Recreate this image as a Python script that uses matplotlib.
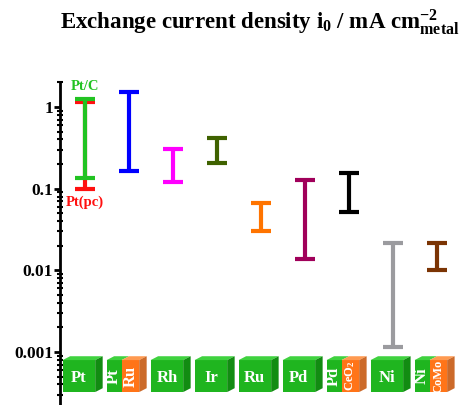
import matplotlib
matplotlib.use('Agg')
import matplotlib.pyplot as plt
import matplotlib.transforms as mtransforms
from matplotlib.patches import Polygon
import numpy as np

plt.rcParams['font.family'] = 'Liberation Serif'
plt.rcParams['font.weight'] = 'bold'
plt.rcParams['mathtext.fontset'] = 'custom'
plt.rcParams['mathtext.rm'] = 'Liberation Serif:bold'
plt.rcParams['mathtext.it'] = 'Liberation Serif:bold'
plt.rcParams['mathtext.bf'] = 'Liberation Serif:bold'
plt.rcParams['mathtext.default'] = 'regular'

# catalysts, left to right
catalysts = ['Pt', 'PtRu', 'Rh', 'Ir', 'Ru', 'Pd', 'PdCeO2', 'Ni', 'NiCoMo']
# i0 range (low, high), mA cm-2 metal
low = [0.135, 0.165, 0.121, 0.206, 0.0304, 0.0137, 0.0518, 0.00115, 0.0101]
high = [1.25, 1.53, 0.306, 0.417, 0.0668, 0.128, 0.155, 0.0216, 0.0216]
colors = ['#22c322', '#0000ff', '#ff00ff', '#3f6200', '#ff7400',
          '#a0005a', '#000000', '#9b9b9f', '#7b3404']
# polycrystalline Pt range
ptpc_low = 0.098
ptpc_high = 1.15

# cube labels: (left part, right part or None)
cube_left = ['Pt', 'Pt', 'Rh', 'Ir', 'Ru', 'Pd', 'Pd', 'Ni', 'Ni']
cube_right = [None, 'Ru', None, None, None, None, 'CeO$_2$', None, 'CoMo']

fig = plt.figure(figsize=(4.59, 4.05), dpi=100)
ax = fig.add_axes([60/459, 0, 399/459, 323/405])
ax.set_yscale('log')
ax.set_ylim(2.24e-4, 2.02)
ax.set_xlim(-0.57, 8.5)

x = np.arange(len(catalysts))

def bar(xx, lo, hi, c, z=2):
    mid = np.sqrt(lo*hi)
    ax.errorbar([xx], [mid], yerr=[[mid-lo], [hi-mid]], fmt='none',
                ecolor=c, elinewidth=3, capsize=7, capthick=3, zorder=z)

bar(0, ptpc_low, ptpc_high, '#ff1010', z=2)
for i in range(len(catalysts)):
    bar(x[i], low[i], high[i], colors[i], z=3)

ax.text(0, 1.5, 'Pt/C', color='#22c322', fontsize=10.5, ha='center', va='bottom', fontweight='bold')
ax.text(0, 0.083, 'Pt(pc)', color='#ff1010', fontsize=10.5, ha='center', va='top', fontweight='bold')

# cubes
tr = mtransforms.blended_transform_factory(ax.transData, ax.transAxes)
w = 0.74
dx = 0.17
dy = 0.012
y0, y1 = 0.040, 0.139
green, gtop, gside = '#1fb51f', '#3fd23f', '#128c12'
orange, otop, oside = '#ff7418', '#ff9a50', '#cc6a2a'
for i in range(len(catalysts)):
    cx = x[i] - 0.14
    xl, xr = cx - w/2, cx + w/2
    if cube_right[i] is None:
        ax.add_patch(Polygon([(xl, y0), (xr, y0), (xr, y1), (xl, y1)], closed=True,
                             fc=green, ec='none', transform=tr, clip_on=False))
        ax.add_patch(Polygon([(xl, y1), (xr, y1), (xr+dx, y1+dy), (xl+dx, y1+dy)],
                             fc=gtop, ec='none', transform=tr, clip_on=False))
        ax.add_patch(Polygon([(xr, y0), (xr+dx, y0+dy), (xr+dx, y1+dy), (xr, y1)],
                             fc=gside, ec='none', transform=tr, clip_on=False))
        ax.text(cx, (y0+y1)/2 - 0.005, cube_left[i], color='white', fontsize=12,
                ha='center', va='center', transform=tr, fontweight='bold')
    else:
        xm = cx - 0.03
        ax.add_patch(Polygon([(xl, y0), (xm, y0), (xm, y1), (xl, y1)],
                             fc=green, ec='none', transform=tr, clip_on=False))
        ax.add_patch(Polygon([(xm, y0), (xr, y0), (xr, y1), (xm, y1)],
                             fc=orange, ec='none', transform=tr, clip_on=False))
        ax.add_patch(Polygon([(xl, y1), (xm, y1), (xm+dx, y1+dy), (xl+dx, y1+dy)],
                             fc=gtop, ec='none', transform=tr, clip_on=False))
        ax.add_patch(Polygon([(xm, y1), (xr, y1), (xr+dx, y1+dy), (xm+dx, y1+dy)],
                             fc=otop, ec='none', transform=tr, clip_on=False))
        ax.add_patch(Polygon([(xr, y0), (xr+dx, y0+dy), (xr+dx, y1+dy), (xr, y1)],
                             fc=oside, ec='none', transform=tr, clip_on=False))
        ax.text((xl+xm)/2, (y0+y1)/2, cube_left[i], color='white', fontsize=12,
                ha='center', va='center', rotation=90, transform=tr, fontweight='bold')
        fs = 12 if cube_right[i] == 'Ru' else 9
        ax.text((xm+xr)/2, (y0+y1)/2, cube_right[i], color='white', fontsize=fs,
                ha='center', va='center', rotation=90, transform=tr, fontweight='bold')

for s in ['top', 'right', 'bottom']:
    ax.spines[s].set_visible(False)
ax.spines['left'].set_linewidth(2)
ax.set_xticks([])
ax.set_yticks([0.001, 0.01, 0.1, 1])
ax.set_yticklabels(['0.001', '0.01', '0.1', '1'])
ax.tick_params(axis='y', which='major', direction='out', length=4, width=2,
               labelsize=12.5, pad=1)
ax.tick_params(axis='y', which='minor', direction='inout', length=4, width=1.5)

fig.text(0.567, 0.945, r'Exchange current density i$_{0}$ / mA cm$^{-2}_{metal}$',
         ha='center', va='center', fontsize=16.5, fontweight='bold')

fig.savefig('out.png', dpi=100)
